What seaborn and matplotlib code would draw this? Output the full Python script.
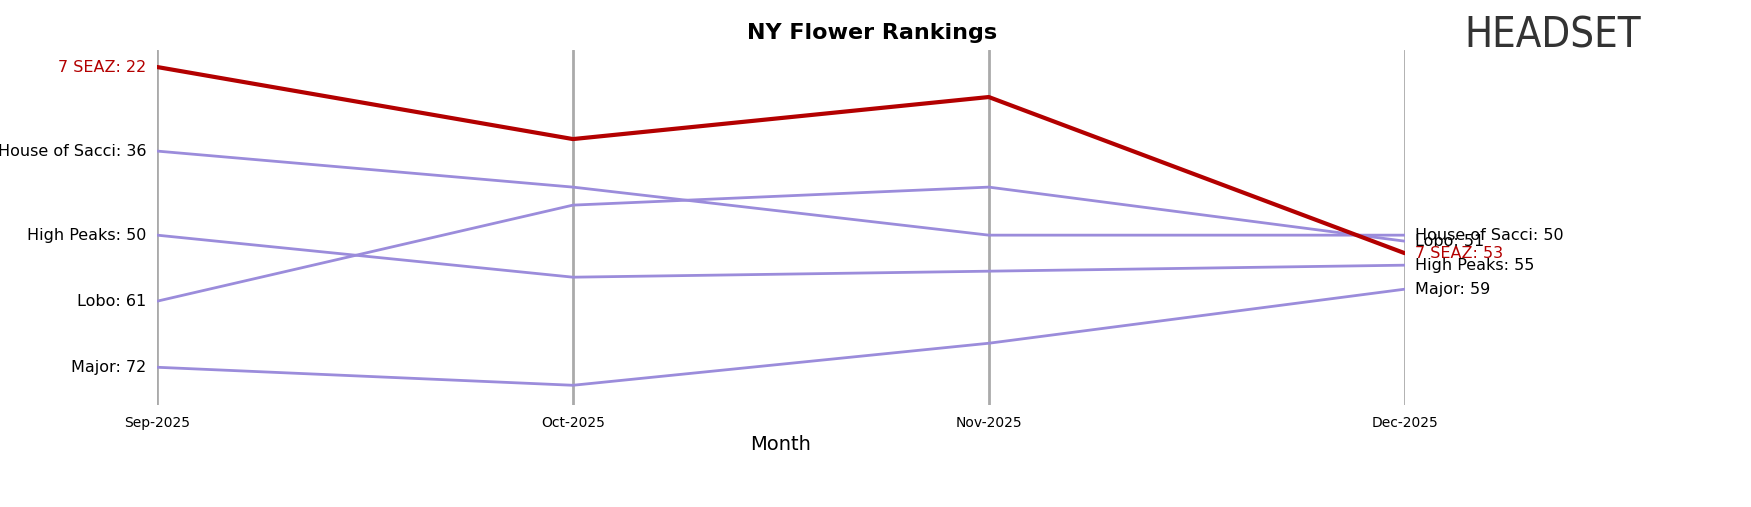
import matplotlib
matplotlib.use("Agg")
import matplotlib.pyplot as plt
import seaborn as sns
import pandas as pd

months = ["Sep-2025", "Oct-2025", "Nov-2025", "Dec-2025"]
brands = ["7 SEAZ", "House of Sacci", "High Peaks", "Lobo", "Major"]
seaz = [22, 34, 27, 53]
sacci = [36, 42, 50, 50]
peaks = [50, 57, 56, 55]
lobo = [61, 45, 42, 51]
major = [72, 75, 68, 59]

ranks = [seaz, sacci, peaks, lobo, major]
rows = []
for b, r in zip(brands, ranks):
    for i, m in enumerate(months):
        rows.append({"brand": b, "x": i, "rank": r[i]})
df = pd.DataFrame(rows)

sns.set_style("white")
fig = plt.figure(figsize=(17.51, 5.07), dpi=100)
ax = fig.add_axes([0.0897, 0.201, 0.7125, 0.70])

for i in range(len(months)):
    ax.axvline(i, color="#aaaaaa", lw=2, zorder=0)

others = df[df.brand != "7 SEAZ"]
sns.lineplot(data=others, x="x", y="rank", units="brand", estimator=None,
             color="#9b8cdb", lw=2, ax=ax, legend=False)
sns.lineplot(data=df[df.brand == "7 SEAZ"], x="x", y="rank", color="#b30000",
             lw=3, ax=ax, legend=False)

ax.set_ylim(78.3, 19.2)
ax.set_xlim(0, 3)
for s in ax.spines.values():
    s.set_visible(False)
ax.set_yticks([])
ax.set_xticks(range(len(months)))
ax.set_xticklabels(months, fontsize=10, color="black")
ax.tick_params(axis="x", length=4, color="#444444")
ax.set_xlabel("Month", fontsize=14, color="black")
ax.set_ylabel("")

for b, r in zip(brands, ranks):
    c = "#b30000" if b == "7 SEAZ" else "black"
    ax.text(-0.025, r[0], f"{b}: {r[0]}", ha="right", va="center", fontsize=11.5, color=c)
    ax.text(3.025, r[-1], f"{b}: {r[-1]}", ha="left", va="center", fontsize=11.5, color=c)

fig.text(0.498, 0.935, "NY Flower Rankings", ha="center", va="center",
         fontsize=16, fontweight="bold", color="black")
fig.text(0.887, 0.93, "HEADSET", ha="center", va="center", fontsize=30,
         color="#333333", fontstretch="condensed")

fig.savefig("out.png", dpi=100)
